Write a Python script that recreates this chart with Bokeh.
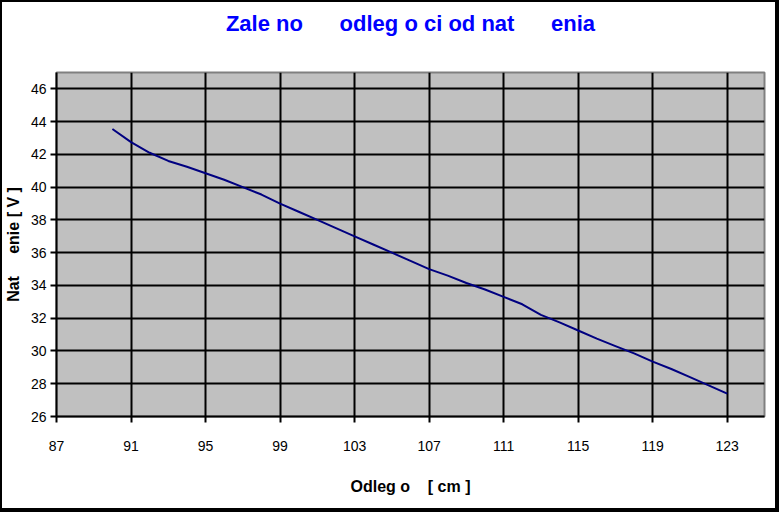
from bokeh.plotting import figure
from bokeh.models import FixedTicker, Range1d, LinearAxis, InlineStyleSheet
from bokeh.embed import file_html
from bokeh.resources import INLINE

# Data
distance_cm = [90, 91, 92, 93, 94, 95, 96, 97, 98, 99, 100, 101, 102, 103, 104, 105, 106,
               107, 108, 109, 110, 111, 112, 113, 114, 115, 116, 117, 118, 119, 120, 121, 122, 123]
voltage_v = [43.55, 42.75, 42.1, 41.6, 41.25, 40.85, 40.45, 40.0, 39.55, 39.0, 38.5, 38.0, 37.5,
             37.0, 36.5, 36.0, 35.5, 35.0, 34.6, 34.15, 33.75, 33.3, 32.85, 32.2, 31.75, 31.25,
             30.75, 30.3, 29.85, 29.35, 28.9, 28.4, 27.9, 27.4]
x_ticks = [87, 91, 95, 99, 103, 107, 111, 115, 119, 123]
y_ticks = [26, 28, 30, 32, 34, 36, 38, 40, 42, 44, 46]

NB = "\u00a0"
title_text = "Zale no" + NB * 5 + " odleg o ci od nat" + NB * 5 + " enia"
x_label = "Odleg o" + NB * 3 + " [ cm ]"
y_label = "Nat" + NB * 4 + " enie [ V ]"

FONT = "Liberation Sans"

p = figure(width=779, height=512, output_backend="svg", toolbar_location=None,
           x_range=Range1d(87, 125), y_range=Range1d(26, 47),
           min_border_left=56, min_border_right=15, min_border_top=72, min_border_bottom=96)

# Black chart-area border drawn on top of the canvas
p.stylesheets = [InlineStyleSheet(css=(
    ":host { position: relative; }"
    ":host::after { content: ''; position: absolute; left: 0; top: 0; right: 0; bottom: 0;"
    " border-style: solid; border-color: black; border-width: 2px 4px 4px 2px;"
    " pointer-events: none; z-index: 1000; }"
))]

p.background_fill_color = "#C0C0C0"
p.border_fill_color = "white"
p.outline_line_color = "#808080"
p.outline_line_width = 2

xa = p.below[0]
ya = p.left[0]

# Chart title drawn as the label of a bare axis above the plot area
title_axis = LinearAxis(ticker=FixedTicker(ticks=[]), axis_label=title_text,
                        axis_line_color=None, major_tick_line_color=None,
                        minor_tick_line_color=None, major_tick_out=0, major_tick_in=0,
                        major_label_standoff=0, axis_label_standoff=37,
                        axis_label_text_color="#0000FF", axis_label_text_font=FONT,
                        axis_label_text_font_style="bold", axis_label_text_font_size="22px")
p.add_layout(title_axis, "above")

for g in (p.xgrid[0], p.ygrid[0]):
    g.grid_line_color = "black"
    g.grid_line_width = 2
p.xgrid[0].ticker = FixedTicker(ticks=x_ticks)
p.ygrid[0].ticker = FixedTicker(ticks=y_ticks)

xa.ticker = FixedTicker(ticks=x_ticks)
ya.ticker = FixedTicker(ticks=y_ticks)
for a in (xa, ya):
    a.axis_line_color = "black"
    a.axis_line_width = 2
    a.major_tick_line_color = "black"
    a.major_tick_line_width = 2
    a.major_tick_in = 0
    a.major_tick_out = 6
    a.minor_tick_line_color = None
    a.major_label_text_font = FONT
    a.major_label_text_font_size = "14px"
    a.major_label_text_color = "black"
    a.axis_label_text_font = FONT
    a.axis_label_text_font_size = "16px"
    a.axis_label_text_font_style = "bold"
    a.axis_label_text_color = "black"

xa.axis_label = x_label
ya.axis_label = y_label
xa.major_label_standoff = 18
ya.major_label_standoff = 4
xa.axis_label_standoff = 24
ya.axis_label_standoff = 6

p.line(distance_cm, voltage_v, line_color="#000080", line_width=2)

open("out.html", "w").write(file_html(p, INLINE))
